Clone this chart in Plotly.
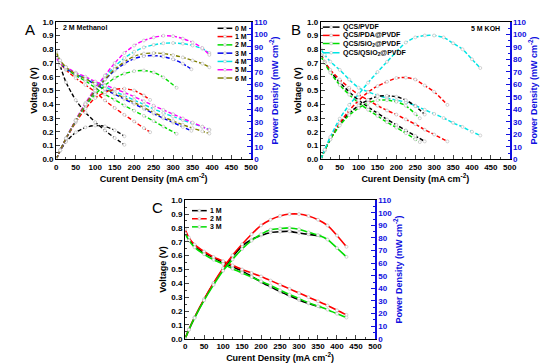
import plotly.graph_objects as go

# ---------------- Panel A : 0-6 M KOH in 2 M methanol ----------------
a_labels = ["0 M", "1 M", "2 M", "3 M", "4 M", "5 M", "6 M"]
a_colors = ["#000000", "#ff0000", "#00dd00", "#0000ee", "#00e5e5", "#ff00ff", "#808000"]

a0_i = [0, 10, 25, 50, 75, 100, 125, 150, 175]
a0_v = [0.76, 0.68, 0.56, 0.43, 0.34, 0.27, 0.21, 0.155, 0.105]
a0_p = [0, 6.8, 14, 21.5, 25.5, 27, 26.3, 23.3, 18.4]

a1_i = [0, 10, 25, 50, 75, 100, 125, 150, 175, 200, 225, 241]
a1_v = [0.76, 0.70, 0.65, 0.59, 0.54, 0.49, 0.428, 0.373, 0.323, 0.275, 0.227, 0.197]
a1_p = [0, 7, 16.3, 29.5, 40.5, 49, 53.5, 56, 56.5, 55, 51, 47.5]

a2_i = [0, 10, 25, 50, 75, 100, 125, 150, 175, 200, 225, 250, 275, 309]
a2_v = [0.77, 0.71, 0.66, 0.61, 0.57, 0.52, 0.472, 0.433, 0.391, 0.353, 0.316, 0.278, 0.238, 0.185]
a2_p = [0, 7.1, 16.5, 30.5, 42.8, 52, 59, 65, 68.5, 70.5, 71, 69.5, 65.5, 57.2]

a3_i = [0, 10, 25, 50, 75, 100, 125, 150, 175, 200, 225, 250, 275, 300, 325, 347]
a3_v = [0.75, 0.70, 0.66, 0.62, 0.585, 0.545, 0.508, 0.473, 0.437, 0.403, 0.367, 0.332, 0.298, 0.267, 0.235, 0.207]
a3_p = [0, 7, 16.5, 31, 44, 54.5, 63.5, 71, 76.5, 80.5, 82.5, 83, 82, 80, 76.5, 72]

a4_i = [0, 10, 25, 50, 75, 100, 125, 150, 175, 200, 225, 250, 275, 300, 325, 350, 375, 393]
a4_v = [0.74, 0.70, 0.67, 0.625, 0.59, 0.56, 0.528, 0.493, 0.463, 0.43, 0.398, 0.366, 0.337, 0.31, 0.285, 0.26, 0.236, 0.216]
a4_p = [0, 7, 16.8, 31, 44, 56, 66, 74, 81, 86, 89.5, 91.5, 92.8, 93, 92.5, 91, 88.5, 85]

a5_i = [0, 10, 25, 50, 75, 100, 125, 150, 175, 200, 225, 250, 275, 300, 325, 350, 375, 393]
a5_v = [0.74, 0.70, 0.67, 0.63, 0.60, 0.565, 0.54, 0.513, 0.486, 0.455, 0.422, 0.39, 0.359, 0.328, 0.297, 0.267, 0.237, 0.212]
a5_p = [0, 7, 16.8, 31.5, 45, 56.5, 67, 77, 85, 91, 95, 97.5, 98.8, 98.5, 96.5, 93.5, 89, 83.5]

a6_i = [0, 10, 25, 50, 75, 100, 125, 150, 175, 200, 225, 250, 275, 300, 325, 350, 375, 393]
a6_v = [0.78, 0.72, 0.67, 0.62, 0.585, 0.55, 0.512, 0.48, 0.446, 0.413, 0.376, 0.34, 0.308, 0.278, 0.251, 0.226, 0.204, 0.187]
a6_p = [0, 7.2, 16.8, 31, 44, 55, 64, 72, 78, 82.5, 84.5, 85, 84.6, 83.3, 81.5, 79, 76.5, 73.6]

# ---------------- Panel B : membranes, 5 M KOH ----------------
b_labels = ["QCS/PVDF", "QCS/PDA@PVDF", "QCS/SiO<sub>2</sub>@PVDF", "QCS/QSiO<sub>2</sub>@PVDF"]
b_colors = ["#000000", "#ff0000", "#00dd00", "#00e5e5"]

b0_i = [0, 10, 25, 50, 75, 100, 125, 150, 175, 200, 225, 250, 275]
b0_v = [0.76, 0.71, 0.64, 0.56, 0.49, 0.43, 0.38, 0.335, 0.29, 0.25, 0.21, 0.17, 0.13]
b0_p = [0, 7.1, 16, 28, 36.8, 43, 47.5, 50.3, 50.8, 50, 47.3, 42.5, 35.8]

b1_i = [0, 10, 25, 50, 75, 100, 125, 150, 175, 200, 225, 250, 275, 300, 335]
b1_v = [0.76, 0.71, 0.65, 0.58, 0.52, 0.47, 0.43, 0.39, 0.355, 0.325, 0.29, 0.255, 0.215, 0.18, 0.13]
b1_p = [0, 7.1, 16.3, 29, 39, 47, 53.8, 58.5, 62, 65, 65.3, 63.8, 59, 54, 43.5]

b2_i = [0, 10, 25, 50, 75, 100, 125, 150, 175, 200, 225, 250, 262]
b2_v = [0.75, 0.70, 0.63, 0.54, 0.47, 0.41, 0.36, 0.315, 0.27, 0.23, 0.19, 0.145, 0.125]
b2_p = [0, 7, 15.8, 27, 35.3, 41, 45, 47.3, 47.3, 46, 42.8, 36.3, 32.8]

b3_i = [0, 10, 25, 50, 75, 100, 125, 150, 175, 200, 225, 250, 275, 300, 325, 350, 375, 400, 422]
b3_v = [0.80, 0.76, 0.71, 0.65, 0.58, 0.52, 0.49, 0.465, 0.445, 0.43, 0.415, 0.39, 0.36, 0.33, 0.30, 0.265, 0.235, 0.20, 0.173]
b3_p = [0, 7.6, 17.8, 32.5, 43.5, 52, 61.3, 69.8, 77.9, 86, 93.4, 97.5, 99, 99, 97.5, 92.8, 88, 80, 73]

# ---------------- Panel C : 1-3 M ----------------
c_labels = ["1 M", "2 M", "3 M"]
c_colors = ["#000000", "#ff0000", "#00dd00"]

c0_i = [0, 10, 25, 50, 75, 100, 125, 150, 175, 200, 225, 250, 275, 300, 325, 355]
c0_v = [0.76, 0.72, 0.67, 0.62, 0.585, 0.55, 0.52, 0.49, 0.45, 0.41, 0.375, 0.34, 0.31, 0.28, 0.255, 0.23]
c0_p = [0, 7.2, 16.8, 31, 43.9, 55, 65, 73.5, 78.8, 82, 84.4, 85, 85.3, 84, 82.9, 81.7]

c1_i = [0, 10, 25, 50, 75, 100, 125, 150, 175, 200, 225, 250, 275, 300, 325, 350, 375, 400, 425]
c1_v = [0.79, 0.73, 0.68, 0.63, 0.59, 0.56, 0.53, 0.50, 0.475, 0.45, 0.42, 0.39, 0.36, 0.33, 0.30, 0.27, 0.24, 0.205, 0.172]
c1_p = [0, 7.3, 17, 31.5, 44.3, 56, 66.3, 75, 83, 90, 94.5, 97.5, 99, 99, 97.5, 94.5, 90, 82, 73]

c2_i = [0, 10, 25, 50, 75, 100, 125, 150, 175, 200, 225, 250, 275, 300, 325, 350, 375, 400, 425]
c2_v = [0.76, 0.71, 0.66, 0.61, 0.57, 0.54, 0.505, 0.475, 0.445, 0.415, 0.385, 0.35, 0.32, 0.29, 0.26, 0.235, 0.21, 0.18, 0.153]
c2_p = [0, 7.1, 16.5, 30.5, 42.8, 54, 63, 71.3, 77.9, 83, 86.6, 87.5, 88, 87, 84.5, 82.3, 78.8, 72, 65]

x_ticks = [0, 50, 100, 150, 200, 250, 300, 350, 400, 450, 500]
v_ticks = [0.0, 0.1, 0.2, 0.3, 0.4, 0.5, 0.6, 0.7, 0.8, 0.9, 1.0]
p_ticks = [0, 10, 20, 30, 40, 50, 60, 70, 80, 90, 100, 110]

W, H = 552, 364
FONT = "Liberation Sans, Arial, sans-serif"
BLUE = "#1010e0"
MARK_EDGE = "#c0c0c0"


def fx(px):
    return px / W


def fy(py):
    return 1 - py / H


fig = go.Figure()


def add_series(i, v, p, color, xa, ya, ya2, dash, width):
    for yvals, yax in ((v, ya), (p, ya2)):
        fig.add_trace(go.Scatter(
            x=i, y=yvals, xaxis=xa, yaxis=yax, mode="lines+markers",
            line=dict(color=color, width=width, dash=dash, shape="spline", smoothing=0.6),
            marker=dict(symbol="circle", size=3, color="white",
                        line=dict(color=MARK_EDGE, width=0.7)),
            showlegend=False, hoverinfo="skip"))


a_series = [(a0_i, a0_v, a0_p), (a1_i, a1_v, a1_p), (a2_i, a2_v, a2_p), (a3_i, a3_v, a3_p),
            (a4_i, a4_v, a4_p), (a5_i, a5_v, a5_p), (a6_i, a6_v, a6_p)]
b_series = [(b0_i, b0_v, b0_p), (b1_i, b1_v, b1_p), (b2_i, b2_v, b2_p), (b3_i, b3_v, b3_p)]
c_series = [(c0_i, c0_v, c0_p), (c1_i, c1_v, c1_p), (c2_i, c2_v, c2_p)]

for (i, v, p), col in zip(a_series, a_colors):
    add_series(i, v, p, col, "x", "y", "y2", "4px,2px", 1.4)
for (i, v, p), col in zip(b_series, b_colors):
    add_series(i, v, p, col, "x2", "y3", "y4", "4px,2px", 1.5)
for (i, v, p), col in zip(c_series, c_colors):
    add_series(i, v, p, col, "x3", "y5", "y6", "solid", 1.6)

tickfont = dict(family=FONT, size=8, color="black", weight="bold")
titlefont = dict(family=FONT, size=9, color="black", weight="bold")


def xaxis_cfg(dom, anchor):
    return dict(domain=dom, anchor=anchor, range=[0, 500], tickmode="array", tickvals=x_ticks,
                ticks="inside", ticklen=4, tickwidth=1, linecolor="black", linewidth=1.2,
                mirror=True, showgrid=False, zeroline=False, tickfont=tickfont,
                minor=dict(ticks="inside", ticklen=2, dtick=25, tick0=0, showgrid=False),
                title=dict(text="Curent Density (mA cm<sup>-2</sup>)", font=titlefont, standoff=2))


def yaxis_cfg(dom, anchor):
    return dict(domain=dom, anchor=anchor, range=[0, 1.0], tickmode="array", tickvals=v_ticks,
                tickformat=".1f", ticks="inside", ticklen=4, linecolor="black", linewidth=1.2,
                showgrid=False, zeroline=False, tickfont=tickfont,
                minor=dict(ticks="inside", ticklen=2, dtick=0.05, tick0=0, showgrid=False),
                title=dict(text="Voltage (V)", font=titlefont, standoff=3))


def y2axis_cfg(over, anchor):
    return dict(overlaying=over, anchor=anchor, side="right", range=[0, 110], tickmode="array",
                tickvals=p_ticks, ticks="inside", ticklen=4, linecolor=BLUE, linewidth=1.5,
                tickcolor=BLUE, showgrid=False, zeroline=False,
                tickfont=dict(family=FONT, size=8, color=BLUE, weight="bold"),
                minor=dict(ticks="inside", ticklen=2, dtick=5, tick0=0, tickcolor=BLUE, showgrid=False),
                title=dict(text="Power Density (mW cm<sup>-2</sup>)",
                           font=dict(family=FONT, size=9, color=BLUE, weight="bold"), standoff=3))


domA_x = [fx(47), fx(245)]
domA_y = [fy(151), fy(10)]
domB_x = [fx(316), fx(508)]
domC_x = [fx(178), fx(371)]
domC_y = [fy(335), fy(193)]

fig.update_layout(
    width=W, height=H, margin=dict(l=0, r=0, t=0, b=0),
    paper_bgcolor="white", plot_bgcolor="white", showlegend=False,
    xaxis=xaxis_cfg(domA_x, "y"), yaxis=yaxis_cfg(domA_y, "x"), yaxis2=y2axis_cfg("y", "x"),
    xaxis2=xaxis_cfg(domB_x, "y3"), yaxis3=yaxis_cfg(domA_y, "x2"), yaxis4=y2axis_cfg("y3", "x2"),
    xaxis3=xaxis_cfg(domC_x, "y5"), yaxis5=yaxis_cfg(domC_y, "x3"), yaxis6=y2axis_cfg("y5", "x3"),
)

annotations = []
shapes = []


def legend_block(labels, colors, x_line0, x_line1, x_text, rows_y):
    for lab, col, yy in zip(labels, colors, rows_y):
        shapes.append(dict(type="line", xref="paper", yref="paper",
                           x0=fx(x_line0), x1=fx(x_line1), y0=fy(yy), y1=fy(yy),
                           line=dict(color=col, width=1.5)))
        xm = (x_line0 + x_line1) / 2
        shapes.append(dict(type="circle", xref="paper", yref="paper",
                           x0=fx(xm - 1.4), x1=fx(xm + 1.4), y0=fy(yy + 1.4), y1=fy(yy - 1.4),
                           fillcolor="white", line=dict(color=MARK_EDGE, width=0.7)))
        annotations.append(dict(text=lab, xref="paper", yref="paper", x=fx(x_text), y=fy(yy),
                                xanchor="left", yanchor="middle", showarrow=False,
                                font=dict(family=FONT, size=7, color="black", weight="bold")))


legend_block(a_labels, a_colors, 211, 226, 227, [16.7, 25.2, 33.7, 42.2, 50.7, 59.2, 67.7])
legend_block(b_labels, b_colors, 318, 335, 336, [15.5, 24, 32.3, 41.8])
legend_block(c_labels, c_colors, 185, 200, 201, [203.7, 212, 220.3])

for txt, x, y in (("A", 20, 18), ("B", 291, 18), ("C", 150, 200)):
    annotations.append(dict(text=txt, xref="paper", yref="paper", x=fx(x), y=fy(y),
                            xanchor="center", yanchor="middle", showarrow=False,
                            font=dict(family=FONT, size=15, color="black")))

annotations.append(dict(text="2 M Methanol", xref="paper", yref="paper", x=fx(52), y=fy(16),
                        xanchor="left", yanchor="middle", showarrow=False,
                        font=dict(family=FONT, size=7, color="black", weight="bold")))
annotations.append(dict(text="5 M KOH", xref="paper", yref="paper", x=fx(500), y=fy(17),
                        xanchor="right", yanchor="middle", showarrow=False,
                        font=dict(family=FONT, size=7, color="black", weight="bold")))

fig.update_layout(annotations=annotations, shapes=shapes)
fig.write_html("out.html")
